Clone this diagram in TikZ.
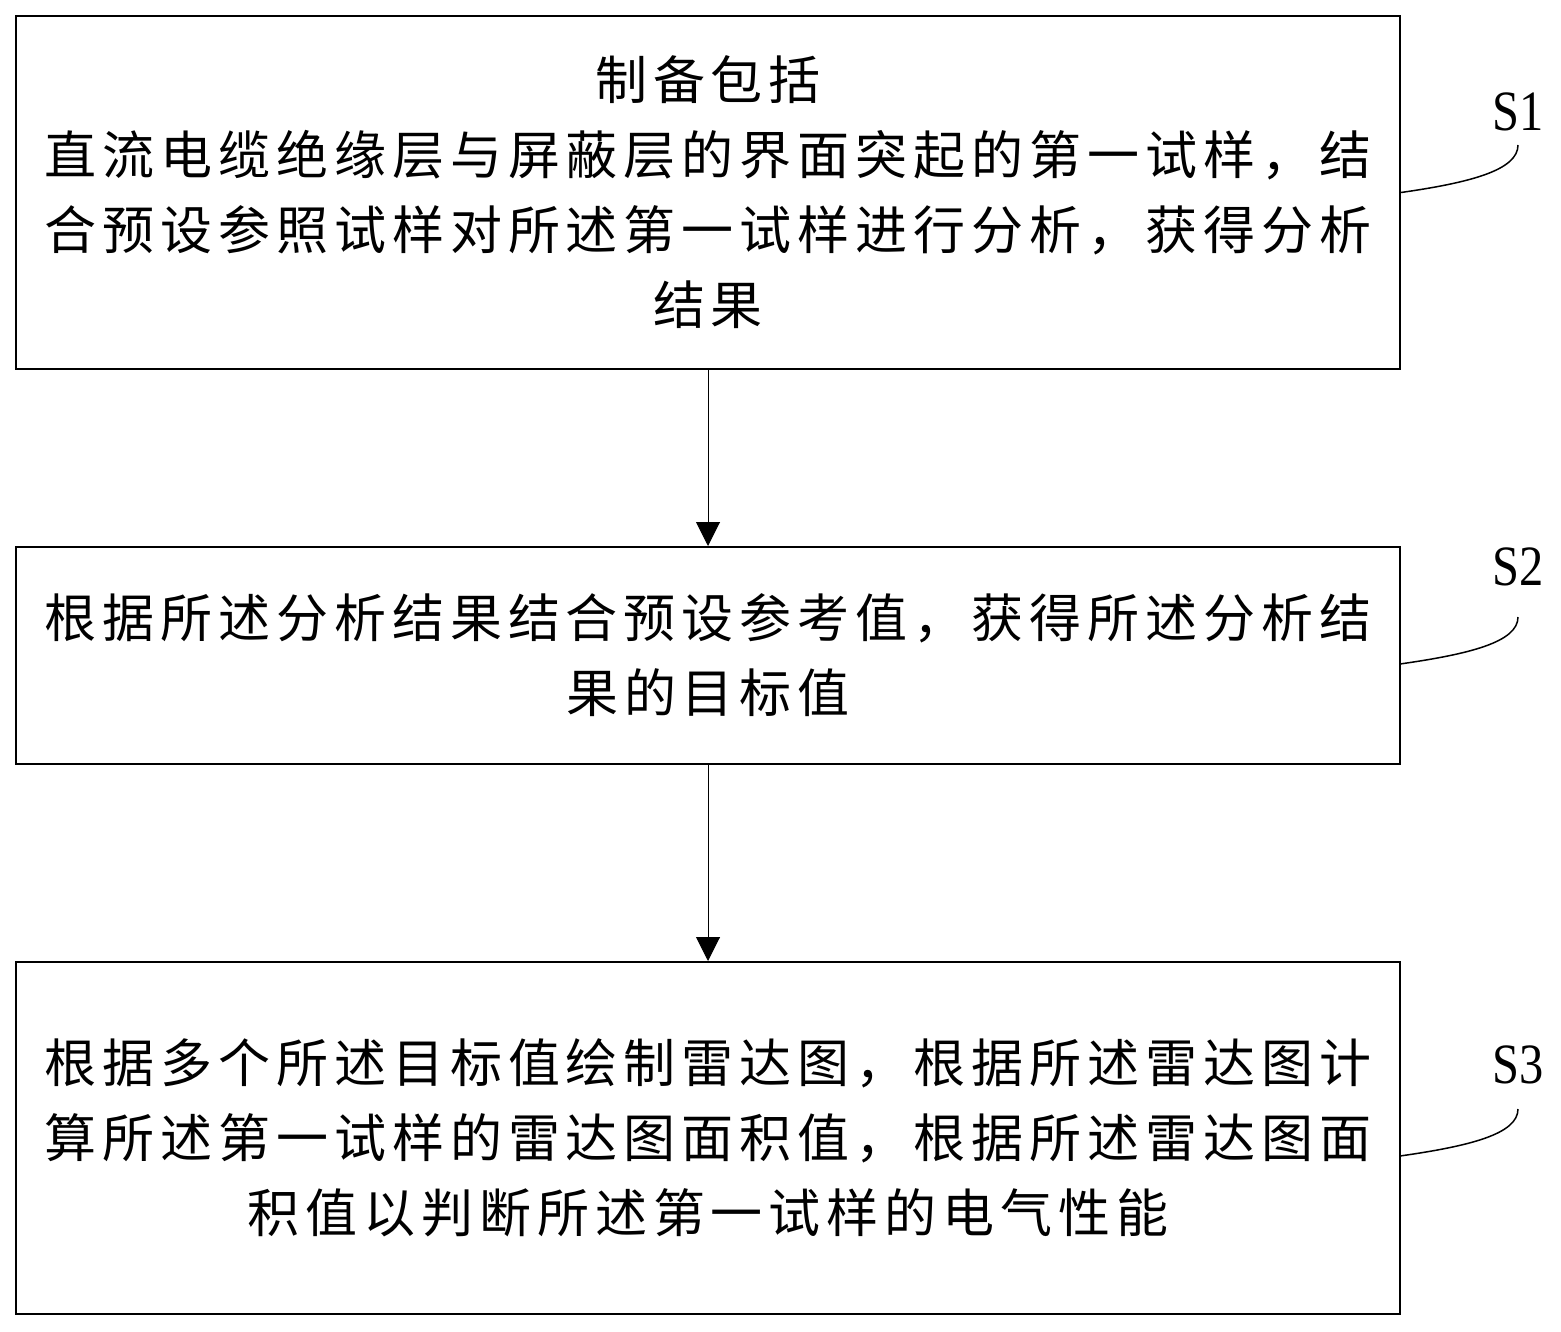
\documentclass[tikz,border=0pt]{standalone}
\usepackage{fontspec}
\setmainfont{Liberation Serif}
\newfontfamily\cjk[LetterSpace=11.5]{Noto Sans CJK SC}
\usetikzlibrary{arrows.meta}
\begin{document}
\begin{tikzpicture}[x=1pt,y=1pt,
  stepbox/.style={draw, line width=2pt, minimum width=1384pt, inner sep=0pt, align=center,
    font=\cjk\fontsize{52}{75}\selectfont},
  flow/.style={line width=1pt, -{Triangle[width=24pt,length=24pt]}},
  lead/.style={line width=1.5pt},
  tag/.style={font=\fontsize{57}{60}\selectfont, xscale=0.85, inner sep=0pt, anchor=base}
]
\useasboundingbox (0,0) rectangle (1561,-1332);

\node[stepbox, minimum height=353pt] (b1) at (708,-192.5)
  {制备包括\\直流电缆绝缘层与屏蔽层的界面突起的第一试样，结\\合预设参照试样对所述第一试样进行分析，获得分析\\结果};
\node[stepbox, minimum height=217pt] (b2) at (708,-655.5)
  {根据所述分析结果结合预设参考值，获得所述分析结\\果的目标值};
\node[stepbox, minimum height=352pt] (b3) at (708,-1138)
  {\raisebox{-12pt}{\parbox{1384pt}{\centering 根据多个所述目标值绘制雷达图，根据所述雷达图计\\算所述第一试样的雷达图面积值，根据所述雷达图面\\积值以判断所述第一试样的电气性能}}};

\draw[flow] (b1.south) -- (b2.north);
\draw[flow] (b2.south) -- (b3.north);

\coordinate (s1) at (b1.east);
\coordinate (s2) at (1400,-664);
\coordinate (s3) at (1400,-1156);
\coordinate (e1) at (1518,-145);
\coordinate (e2) at (1518,-617);
\coordinate (e3) at (1518,-1109);

\draw[lead] (s1) .. controls +(70,10) and +(0,-25) .. (e1);
\draw[lead] (s2) .. controls +(70,10) and +(0,-25) .. (e2);
\draw[lead] (s3) .. controls +(70,10) and +(0,-25) .. (e3);

\node[tag] (t1) at (1518,-131) {S1};
\node[tag] (t2) at (1518,-585) {S2};
\node[tag] (t3) at (1518,-1083) {S3};
\end{tikzpicture}
\end{document}
